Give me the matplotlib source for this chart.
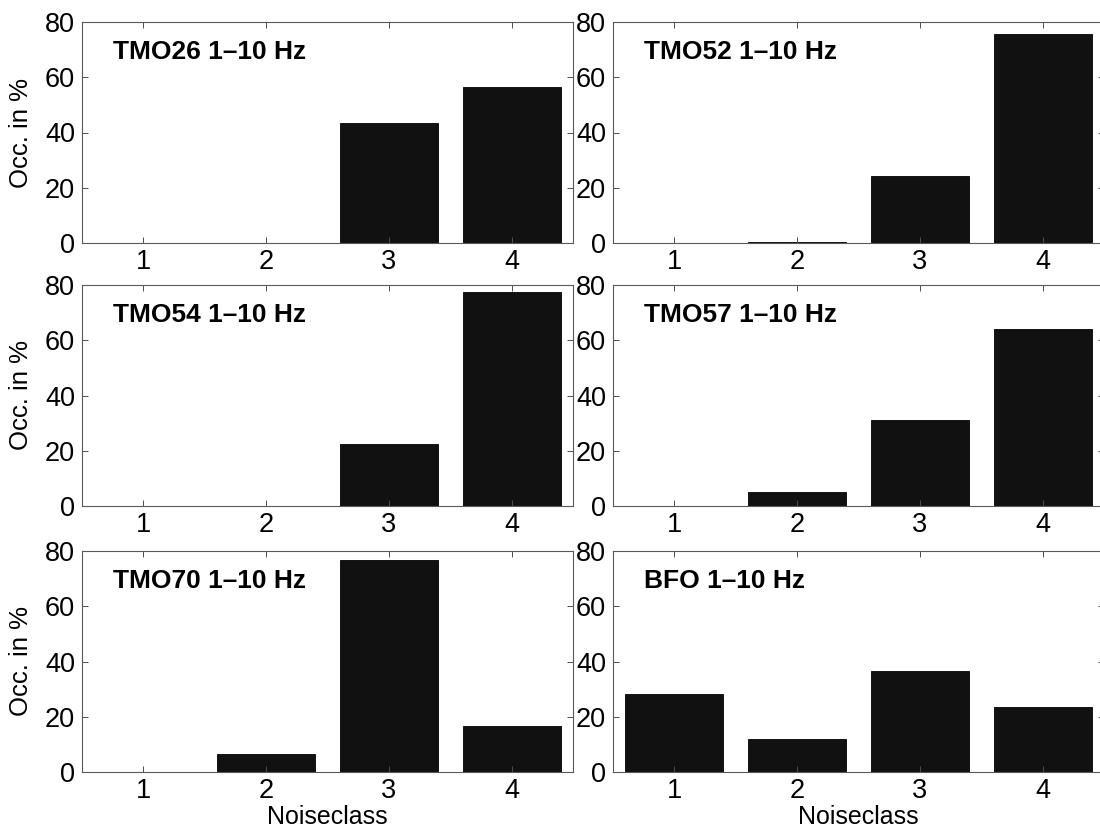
import matplotlib

matplotlib.use("Agg")
import matplotlib.pyplot as plt


# occurrence of each noise class (percent), one list per station
classes = [1, 2, 3, 4]
station_names = [
    "TMO26 1\u201310 Hz",
    "TMO52 1\u201310 Hz",
    "TMO54 1\u201310 Hz",
    "TMO57 1\u201310 Hz",
    "TMO70 1\u201310 Hz",
    "BFO 1\u201310 Hz",
]
tmo26 = [0.0, 0.0, 43.4, 56.6]
tmo52 = [0.0, 0.3, 24.1, 75.6]
tmo54 = [0.0, 0.0, 22.5, 77.5]
tmo57 = [0.0, 4.9, 31.2, 63.9]
tmo70 = [0.0, 6.5, 76.8, 16.7]
bfo = [28.2, 11.8, 36.6, 23.4]
y_ticks = [0, 20, 40, 60, 80]

station_values = [tmo26, tmo52, tmo54, tmo57, tmo70, bfo]

plt.rcParams["font.family"] = ["Liberation Sans", "DejaVu Sans"]

FIG_W, FIG_H = 1100, 831
COL_LEFTS = [82, 613]
AX_W = 491
ROW_TOPS = [22, 285, 551]
AX_H = 221

fig = plt.figure(figsize=(FIG_W / 100, FIG_H / 100), dpi=100)

for index, (name, values) in enumerate(zip(station_names, station_values)):
    row, col = divmod(index, 2)
    left = COL_LEFTS[col] / FIG_W
    bottom = 1 - (ROW_TOPS[row] + AX_H) / FIG_H
    axis = fig.add_axes([left, bottom, AX_W / FIG_W, AX_H / FIG_H])

    axis.bar(
        classes,
        values,
        width=0.8,
        color="#111111",
        edgecolor="black",
        linewidth=0.6,
    )
    axis.set_xlim(0.5, 4.5)
    axis.set_ylim(0, 80)
    axis.set_xticks(classes)
    axis.set_yticks(y_ticks)
    axis.tick_params(
        direction="in",
        length=4,
        width=0.7,
        color="0.3",
        top=True,
        right=True,
        labelsize=19.5,
    )
    axis.tick_params(axis="x", pad=4)
    axis.tick_params(axis="y", pad=5)
    for spine in axis.spines.values():
        spine.set_color("0.35")
        spine.set_linewidth(0.8)

    axis.text(
        0.063,
        0.831,
        name,
        transform=axis.transAxes,
        fontsize=19,
        fontweight="bold",
        ha="left",
        va="baseline",
    )

    if col == 0:
        axis.set_ylabel("Occ. in %", fontsize=18.5)
        axis.yaxis.set_label_coords(-0.1, 0.5)
    if row == 2:
        axis.set_xlabel("Noiseclass", fontsize=18, labelpad=1)

fig.savefig("out.png", dpi=100)
plt.close(fig)
